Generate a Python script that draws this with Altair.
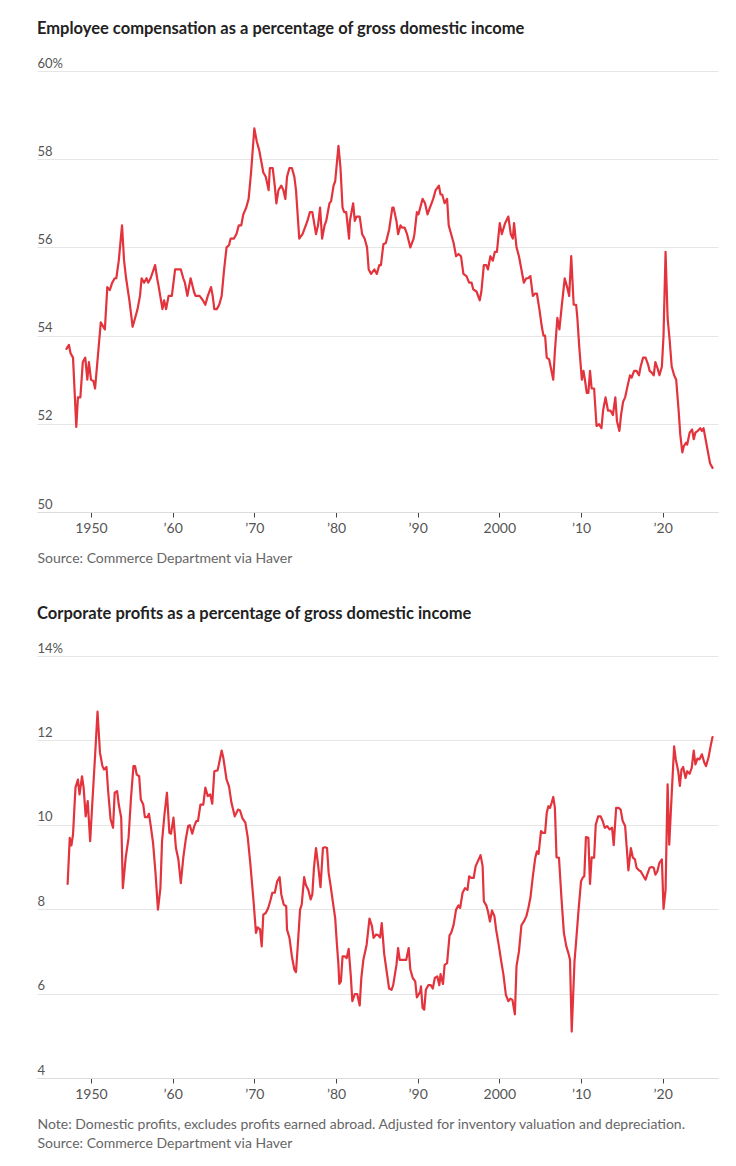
import altair as alt
import pandas as pd

# ---------------- data ----------------
comp_years = [
    1947.0, 1947.3, 1947.5, 1947.8, 1948.2, 1948.4, 1948.7, 1949.0, 1949.3, 1949.55,
    1949.75, 1950.0, 1950.3, 1950.5, 1951.2, 1951.7, 1952.0, 1952.3, 1952.6, 1952.9,
    1953.1, 1953.4, 1953.8, 1954.05, 1954.3, 1954.7, 1955.1, 1955.4, 1955.7, 1956.0,
    1956.2, 1956.5, 1956.8, 1957.0, 1957.3, 1957.85, 1958.1, 1958.3, 1958.75, 1958.95,
    1959.2, 1959.5, 1959.9, 1960.3, 1961.0, 1961.3, 1961.5, 1961.8, 1962.2, 1962.6,
    1962.8, 1963.3, 1963.7, 1964.0, 1964.3, 1964.7, 1964.9, 1965.1, 1965.4, 1965.7,
    1966.0, 1966.3, 1966.6, 1966.9, 1967.1, 1967.5, 1967.8, 1968.1, 1968.4, 1968.65,
    1969.0, 1969.3, 1969.6, 1970.0, 1970.3, 1970.6, 1970.8, 1971.1, 1971.4, 1971.75,
    1971.9, 1972.25, 1972.5, 1972.7, 1972.95, 1973.3, 1973.55, 1973.8, 1974.0, 1974.3,
    1974.6, 1974.9, 1975.1, 1975.5, 1975.9, 1976.3, 1976.5, 1976.8, 1977.1, 1977.55,
    1977.8, 1978.05, 1978.3, 1978.6, 1978.8, 1979.2, 1979.4, 1979.7, 1979.9, 1980.3,
    1980.55, 1980.8, 1981.0, 1981.25, 1981.6, 1981.7, 1982.1, 1982.3, 1982.5, 1982.9,
    1983.2, 1983.5, 1983.8, 1984.0, 1984.3, 1984.7, 1985.0, 1985.3, 1985.5, 1985.8,
    1986.1, 1986.5, 1986.9, 1987.05, 1987.4, 1987.6, 1987.9, 1988.1, 1988.4, 1988.7,
    1989.1, 1989.5, 1989.6, 1989.9, 1990.1, 1990.6, 1990.9, 1991.2, 1991.5, 1991.9,
    1992.2, 1992.6, 1992.8, 1993.0, 1993.3, 1993.6, 1993.8, 1994.1, 1994.4, 1994.7,
    1995.0, 1995.3, 1995.6, 1995.97, 1996.3, 1996.6, 1996.8, 1997.2, 1997.6, 1997.8,
    1998.1, 1998.4, 1998.6, 1998.9, 1999.2, 1999.45, 1999.7, 2000.05, 2000.3, 2000.7,
    2001.1, 2001.4, 2001.65, 2001.8, 2002.1, 2002.4, 2002.7, 2003.0, 2003.3, 2003.5,
    2003.8, 2004.1, 2004.35, 2004.6, 2004.9, 2005.2, 2005.4, 2005.6, 2005.8, 2006.1,
    2006.6, 2006.8, 2007.1, 2007.35, 2007.6, 2008.0, 2008.3, 2008.55, 2008.8, 2009.1,
    2009.4, 2009.55, 2009.8, 2010.1, 2010.3, 2010.5, 2010.7, 2010.9, 2011.1, 2011.3,
    2011.6, 2011.9, 2012.2, 2012.5, 2012.7, 2013.0, 2013.3, 2013.6, 2013.9, 2014.2,
    2014.4, 2014.7, 2014.9, 2015.15, 2015.4, 2015.7, 2016.0, 2016.2, 2016.5, 2016.8,
    2017.1, 2017.3, 2017.6, 2017.9, 2018.2, 2018.4, 2018.65, 2018.9, 2019.1, 2019.35,
    2019.6, 2019.9, 2020.1, 2020.35, 2020.6, 2020.85, 2021.1, 2021.4, 2021.65, 2021.95,
    2022.15, 2022.4, 2022.6, 2022.85, 2023.0, 2023.3, 2023.6, 2023.8, 2024.0, 2024.3,
    2024.6, 2024.8, 2025.0, 2025.2, 2025.5, 2025.8, 2026.1,
]
comp_values = [
    53.70, 53.79, 53.6, 53.5, 51.93, 52.6, 52.6, 53.4, 53.5, 53.0,
    53.4, 53.0, 52.97, 52.8, 54.3, 54.14, 55.1, 55.03, 55.2, 55.3,
    55.3, 55.7, 56.5, 55.7, 55.3, 54.8, 54.2, 54.4, 54.6, 54.9,
    55.3, 55.2, 55.3, 55.2, 55.3, 55.6, 55.3, 55.1, 54.6, 54.8,
    54.6, 54.9, 54.9, 55.5, 55.5, 55.3, 55.2, 54.9, 55.3, 55.0,
    54.9, 54.9, 54.8, 54.7, 54.9, 55.1, 54.9, 54.6, 54.6, 54.7,
    54.9, 55.5, 56.0, 56.05, 56.2, 56.2, 56.3, 56.5, 56.5, 56.75,
    56.9, 57.1, 57.7, 58.7, 58.4, 58.2, 58.0, 57.7, 57.6, 57.3,
    57.8, 57.8, 57.4, 57.0, 57.3, 57.4, 57.3, 57.1, 57.6, 57.8,
    57.8, 57.6, 57.3, 56.2, 56.3, 56.5, 56.6, 56.8, 56.8, 56.3,
    56.5, 56.9, 56.2, 56.5, 56.6, 57.0, 57.05, 57.4, 57.5, 58.3,
    57.8, 56.9, 56.8, 56.8, 56.2, 56.6, 57.0, 56.6, 56.7, 56.7,
    56.3, 56.2, 56.0, 55.5, 55.4, 55.5, 55.4, 55.6, 55.6, 56.07,
    56.1, 56.4, 56.9, 56.9, 56.6, 56.3, 56.5, 56.45, 56.45, 56.3,
    56.0, 56.2, 56.3, 56.8, 56.75, 57.1, 57.0, 56.75, 56.9, 57.1,
    57.3, 57.4, 57.2, 57.2, 57.0, 57.1, 56.5, 56.3, 56.1, 55.8,
    55.85, 55.8, 55.4, 55.35, 55.2, 55.2, 55.05, 55.0, 54.8, 55.0,
    55.6, 55.6, 55.5, 55.8, 55.7, 55.9, 55.9, 56.55, 56.3, 56.55,
    56.7, 56.3, 56.2, 56.55, 56.0, 55.8, 55.5, 55.2, 55.3, 55.3,
    55.35, 54.9, 54.95, 54.95, 54.6, 54.2, 54.0, 54.0, 53.5, 53.46,
    53.0, 53.65, 54.4, 54.14, 54.6, 55.3, 55.1, 54.9, 55.8, 54.7,
    54.7, 54.4, 53.7, 53.0, 53.2, 52.97, 52.7, 52.7, 53.2, 52.8,
    52.8, 51.95, 51.99, 51.9, 52.3, 52.6, 52.3, 52.3, 52.2, 52.6,
    52.06, 51.84, 52.2, 52.5, 52.6, 52.86, 53.1, 53.05, 53.2, 53.2,
    53.1, 53.3, 53.5, 53.5, 53.35, 53.2, 53.16, 53.1, 53.4, 53.27,
    53.1, 53.3, 54.0, 55.9, 54.4, 53.9, 53.3, 53.1, 53.0, 52.3,
    51.76, 51.35, 51.5, 51.57, 51.53, 51.8, 51.87, 51.65, 51.8, 51.84,
    51.9, 51.84, 51.9, 51.7, 51.4, 51.1, 51.0,
]

prof_years = [
    1947.14, 1947.4, 1947.6, 1947.8, 1948.1, 1948.4, 1948.6, 1948.9, 1949.1, 1949.35,
    1949.6, 1949.9, 1950.2, 1950.5, 1950.8, 1951.1, 1951.4, 1951.6, 1951.9, 1952.1,
    1952.4, 1952.7, 1952.9, 1953.2, 1953.4, 1953.7, 1953.9, 1954.25, 1954.6, 1954.9,
    1955.2, 1955.4, 1955.6, 1955.9, 1956.1, 1956.4, 1956.6, 1956.9, 1957.1, 1957.3,
    1957.6, 1957.9, 1958.2, 1958.5, 1958.7, 1959.0, 1959.3, 1959.6, 1959.8, 1960.1,
    1960.4, 1960.7, 1961.0, 1961.3, 1961.6, 1961.9, 1962.1, 1962.4, 1962.65, 1962.9,
    1963.1, 1963.4, 1963.75, 1964.0, 1964.3, 1964.6, 1964.85, 1965.1, 1965.5, 1965.7,
    1966.0, 1966.2, 1966.6, 1966.9, 1967.2, 1967.6, 1968.0, 1968.25, 1968.55, 1968.9,
    1969.2, 1969.5, 1969.9, 1970.2, 1970.4, 1970.7, 1970.9, 1971.1, 1971.4, 1971.7,
    1972.0, 1972.2, 1972.5, 1972.8, 1973.1, 1973.3, 1973.6, 1973.9, 1974.0, 1974.3,
    1974.6, 1974.9, 1975.1, 1975.3, 1975.6, 1975.8, 1976.1, 1976.3, 1976.6, 1976.9,
    1977.1, 1977.3, 1977.55, 1977.8, 1978.1, 1978.4, 1978.65, 1978.9, 1979.1, 1979.35,
    1979.6, 1979.9, 1980.1, 1980.3, 1980.4, 1980.6, 1980.8, 1981.1, 1981.3, 1981.55,
    1981.8, 1982.0, 1982.3, 1982.6, 1982.9, 1983.1, 1983.35, 1983.75, 1984.1, 1984.4,
    1984.6, 1984.9, 1985.2, 1985.4, 1985.6, 1985.9, 1986.2, 1986.5, 1986.8, 1987.0,
    1987.4, 1987.6, 1987.8, 1988.2, 1988.6, 1988.9, 1989.1, 1989.4, 1989.7, 1989.9,
    1990.3, 1990.4, 1990.6, 1990.8, 1991.0, 1991.3, 1991.6, 1991.85, 1992.1, 1992.4,
    1992.65, 1992.8, 1993.1, 1993.3, 1993.6, 1993.9, 1994.1, 1994.4, 1994.7, 1995.0,
    1995.2, 1995.5, 1995.8, 1996.1, 1996.3, 1996.6, 1996.85, 1997.1, 1997.4, 1997.7,
    1997.95, 1998.1, 1998.4, 1998.6, 1998.85, 1999.1, 1999.4, 1999.6, 1999.95, 2000.2,
    2000.5, 2000.8, 2001.1, 2001.35, 2001.6, 2001.9, 2002.1, 2002.4, 2002.7, 2003.0,
    2003.3, 2003.55, 2003.8, 2004.1, 2004.4, 2004.6, 2004.8, 2005.1, 2005.3, 2005.6,
    2005.8, 2006.0, 2006.2, 2006.4, 2006.6, 2006.8, 2007.0, 2007.3, 2007.6, 2007.9,
    2008.2, 2008.45, 2008.65, 2008.86, 2009.2, 2009.4, 2009.7, 2010.0, 2010.25, 2010.4,
    2010.6, 2010.9, 2011.1, 2011.3, 2011.6, 2011.8, 2012.1, 2012.4, 2012.65, 2012.9,
    2013.2, 2013.5, 2013.8, 2014.0, 2014.3, 2014.6, 2014.85, 2015.1, 2015.4, 2015.6,
    2015.8, 2016.1, 2016.35, 2016.6, 2016.8, 2017.1, 2017.3, 2017.65, 2017.9, 2018.1,
    2018.4, 2018.65, 2018.9, 2019.1, 2019.35, 2019.6, 2019.9, 2020.1, 2020.35, 2020.6,
    2020.8, 2021.1, 2021.4, 2021.6, 2021.9, 2022.1, 2022.3, 2022.5, 2022.8, 2023.0,
    2023.3, 2023.55, 2023.8, 2024.0, 2024.25, 2024.5, 2024.8, 2025.1, 2025.3, 2025.6,
    2025.9, 2026.1,
]
prof_values = [
    8.60, 9.69, 9.51, 9.77, 10.88, 11.07, 10.72, 11.15, 10.88, 10.2,
    10.56, 9.61, 10.64, 11.63, 12.68, 11.71, 11.39, 11.31, 11.37, 10.8,
    10.13, 9.93, 10.76, 10.8, 10.48, 10.17, 8.5, 9.22, 9.69, 10.64,
    11.39, 11.39, 11.19, 11.15, 10.6, 10.48, 10.18, 10.18, 10.26, 10.0,
    9.57, 8.86, 7.99, 8.5, 9.61, 10.25, 10.76, 9.81, 9.79, 10.17,
    9.45, 9.18, 8.62, 9.22, 9.65, 9.97, 9.99, 9.79, 9.97, 10.09,
    10.09, 10.48, 10.48, 10.88, 10.68, 10.72, 10.5, 11.27, 11.29, 11.47,
    11.76, 11.59, 11.07, 10.91, 10.52, 10.2, 10.36, 10.34, 10.15, 10.05,
    9.69, 9.1, 8.2, 7.44, 7.57, 7.52, 7.12, 7.87, 7.91, 8.03,
    8.23, 8.39, 8.39, 8.66, 8.76, 8.35, 8.11, 8.07, 7.52, 7.32,
    6.88, 6.57, 6.51, 7.08, 7.99, 8.11, 8.76, 8.58, 8.46, 8.23,
    8.35, 8.98, 9.45, 9.06, 8.52, 9.45, 9.47, 9.45, 8.86, 8.54,
    8.19, 7.79, 7.2, 6.68, 6.23, 6.29, 6.88, 6.88, 6.84, 7.06,
    6.45, 5.82, 5.99, 5.99, 5.72, 6.37, 6.8, 7.16, 7.78, 7.6,
    7.32, 7.4, 7.38, 7.33, 7.67, 6.94, 6.53, 6.12, 6.09, 6.2,
    6.68, 7.08, 6.8, 6.8, 6.8, 7.08, 6.57, 6.37, 6.29, 5.91,
    6.04, 6.17, 5.66, 5.62, 6.09, 6.2, 6.2, 6.12, 6.37, 6.41,
    6.2, 6.46, 6.23, 6.68, 6.72, 7.38, 7.44, 7.63, 7.99, 8.09,
    8.03, 8.39, 8.5, 8.46, 8.78, 8.74, 8.74, 9.02, 9.15, 9.28,
    9.02, 8.19, 8.09, 7.95, 7.71, 7.97, 7.83, 7.52, 7.12, 6.8,
    6.45, 5.97, 5.82, 5.88, 5.85, 5.51, 6.65, 7.0, 7.62, 7.71,
    7.83, 8.03, 8.27, 8.78, 9.22, 9.37, 9.31, 9.85, 9.81, 9.81,
    10.28, 10.44, 10.4, 10.52, 10.66, 10.4, 9.23, 9.22, 8.27, 7.44,
    7.12, 6.96, 6.8, 5.1, 6.76, 7.24, 7.99, 8.66, 8.76, 8.78,
    9.71, 9.69, 8.6, 9.23, 9.22, 10.0, 10.2, 10.2, 10.09, 9.93,
    9.97, 9.89, 9.93, 9.52, 10.4, 10.4, 10.36, 10.09, 9.97, 9.45,
    8.92, 9.45, 9.22, 9.18, 8.98, 8.92, 8.9, 8.78, 8.7, 8.82,
    8.98, 9.0, 8.98, 8.82, 8.9, 9.1, 9.18, 8.01, 8.46, 10.96,
    9.53, 10.72, 11.86, 11.55, 11.27, 10.92, 11.31, 11.37, 11.11, 11.27,
    11.21, 11.35, 11.76, 11.43, 11.57, 11.55, 11.67, 11.47, 11.39, 11.59,
    11.9, 12.08,
]

x_tick_values = [1950, 1960, 1970, 1980, 1990, 2000, 2010, 2020]
x_tick_labels = ["1950", "\u201960", "\u201970", "\u201980", "\u201990", "2000", "\u201910", "\u201920"]

comp_ticks = [50, 52, 54, 56, 58, 60]
comp_tick_labels = ["50", "52", "54", "56", "58", "60%"]
prof_ticks = [4, 6, 8, 10, 12, 14]
prof_tick_labels = ["4", "6", "8", "10", "12", "14%"]

title_comp = "Employee compensation as a percentage of gross domestic income"
title_prof = "Corporate profits as a percentage of gross domestic income"
foot_comp = "Source: Commerce Department via Haver"
foot_prof = [
    "Note: Domestic profits, excludes profits earned abroad. Adjusted for inventory valuation and depreciation.",
    "Source: Commerce Department via Haver",
]

# ---------------- style ----------------
RED = "#e3333c"
FONT = "Lato"
X_DOMAIN = [1943.39, 2026.77]
W = 681


def label_expr(values, labels):
    expr = "datum.label"
    for v, l in zip(values[::-1], labels[::-1]):
        expr = f"datum.value == {v} ? '{l}' : ({expr})"
    return expr


def panel(years, values, ydomain, yticks, ylabels, title, footer, height, foot_pad):
    df = pd.DataFrame({"year": years, "value": values})
    return (
        alt.Chart(df)
        .mark_line(color=RED, strokeWidth=2.2, strokeJoin="round", strokeCap="round")
        .encode(
            x=alt.X(
                "year:Q",
                scale=alt.Scale(domain=X_DOMAIN, nice=False, zero=False),
                axis=alt.Axis(
                    values=x_tick_values,
                    labelExpr=label_expr(x_tick_values, x_tick_labels),
                    grid=False,
                    domain=True,
                    domainColor="#dcdcdc",
                    domainWidth=1,
                    ticks=True,
                    tickColor="#444",
                    tickSize=5,
                    tickWidth=1,
                    labelPadding=4,
                    labelFont=FONT,
                    labelFontSize=14,
                    labelColor="#555",
                    title=footer,
                    titleAnchor="start",
                    titleAlign="left",
                    titleFont=FONT,
                    titleFontSize=14,
                    titleFontWeight="normal",
                    titleColor="#666",
                    titlePadding=foot_pad,
                    titleLineHeight=19,
                ),
            ),
            y=alt.Y(
                "value:Q",
                scale=alt.Scale(domain=ydomain, nice=False, zero=False),
                axis=alt.Axis(
                    values=yticks,
                    labelExpr=label_expr(yticks, ylabels),
                    grid=True,
                    gridColor="#e6e6e6",
                    gridWidth=1,
                    domain=False,
                    ticks=False,
                    tickSize=0,
                    labelAlign="left",
                    labelBaseline="alphabetic",
                    labelPadding=0,
                    labelOffset=-4,
                    labelFont=FONT,
                    labelFontSize=13,
                    labelColor="#555",
                    title=None,
                ),
            ),
        )
        .properties(
            width=W,
            height=height,
            title=alt.TitleParams(
                text=title,
                anchor="start",
                font=FONT,
                fontSize=16.5,
                fontWeight="bold",
                color="#222",
                offset=20,
            ),
        )
    )


top = panel(comp_years, comp_values, [50, 60], comp_ticks, comp_tick_labels,
            title_comp, foot_comp, 441, 16)
bottom = panel(prof_years, prof_values, [4, 14], prof_ticks, prof_tick_labels,
               title_prof, foot_prof, 422, 16)

chart = (
    alt.vconcat(top, bottom, spacing=40)
    .properties(padding={"left": 37, "top": 20, "right": 18, "bottom": 10},
                background="white")
    .configure_view(stroke=None)
)

chart.save("out.html", embed_options={"renderer": "svg", "actions": False})
